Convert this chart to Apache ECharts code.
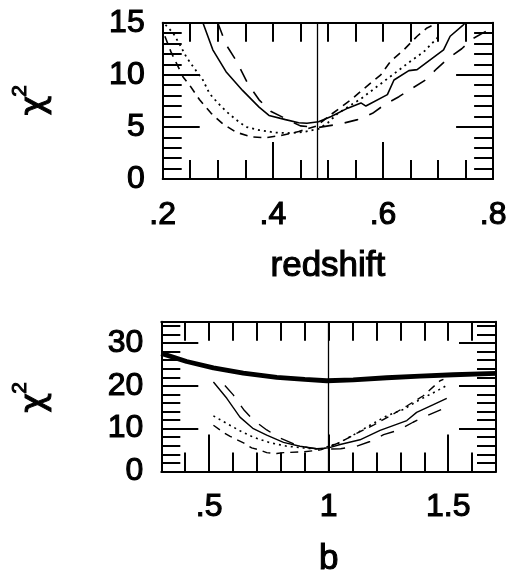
<!DOCTYPE html>
<html><head><meta charset="utf-8">
<script src="https://cdn.jsdelivr.net/npm/echarts@6/dist/echarts.min.js"></script>
<style>html,body{margin:0;padding:0;background:#fff}#c{width:510px;height:578px}</style>
</head><body><div id="c"></div>
<script>
// ---------- top panel: chi^2 vs redshift ----------
const zSolid = [[0.273,15.0],[0.291,12.4],[0.315,10.3],[0.345,8.5],[0.375,6.9],[0.393,6.1],[0.423,5.7],[0.447,5.4],[0.462,5.35],[0.483,5.5],[0.506,6.0],[0.536,6.8],[0.560,7.3],[0.569,7.0],[0.608,8.1],[0.620,9.5],[0.647,10.4],[0.662,10.5],[0.710,12.4],[0.722,13.7],[0.746,14.8],[0.750,15.0]];
const zLongDash = [[0.300,15.0],[0.315,12.9],[0.333,11.4],[0.354,9.2],[0.375,7.6],[0.396,6.5],[0.423,5.8],[0.450,5.1],[0.483,4.95],[0.524,5.3],[0.554,5.7],[0.581,6.3],[0.602,7.1],[0.629,7.9],[0.653,8.7],[0.677,9.5],[0.698,10.6],[0.719,11.6],[0.743,12.5],[0.764,13.5],[0.791,14.3]];
const zDash = [[0.204,13.7],[0.215,12.2],[0.237,9.8],[0.249,9.0],[0.267,7.6],[0.288,6.3],[0.309,5.3],[0.333,4.5],[0.360,4.05],[0.387,3.95],[0.417,4.2],[0.447,4.55],[0.480,5.1],[0.506,6.2],[0.542,7.6],[0.566,8.7],[0.596,10.0],[0.614,11.3],[0.638,12.4],[0.662,13.7],[0.680,14.5],[0.700,15.0]];
const zDot = [[0.205,14.8],[0.219,14.0],[0.231,12.9],[0.243,11.7],[0.255,10.8],[0.273,9.5],[0.285,8.2],[0.300,7.3],[0.315,6.5],[0.333,5.7],[0.351,5.0],[0.375,4.7],[0.405,4.45],[0.435,4.4],[0.459,4.55],[0.483,4.8],[0.500,5.4],[0.518,6.3],[0.560,7.7],[0.590,8.9],[0.620,10.1],[0.650,11.3],[0.674,12.2],[0.698,13.5],[0.702,13.8]];
const zBest = 0.48;
const zLabels = [0.2,0.4,0.6,0.8];
const zChiLabels = [0,5,10,15];

// ---------- bottom panel: chi^2 vs b ----------
const bThick = [[0.30,27.6],[0.406,25.7],[0.518,24.2],[0.643,23.0],[0.783,22.0],[0.900,21.5],[0.992,21.2],[1.103,21.4],[1.243,21.9],[1.382,22.3],[1.522,22.6],[1.700,22.9]];
const bSolid = [[0.518,20.9],[0.574,17.1],[0.629,12.7],[0.685,10.0],[0.741,8.5],[0.811,6.8],[0.880,5.9],[0.950,5.3],[1.000,5.5],[1.048,6.3],[1.131,7.4],[1.215,9.6],[1.327,11.9],[1.368,13.8],[1.438,15.6],[1.494,17.1]];
const bLongDash = [[0.566,20.1],[0.601,17.9],[0.644,14.5],[0.685,12.0],[0.741,9.7],[0.797,7.8],[0.861,6.3],[0.917,5.5],[0.970,5.2],[1.050,5.3],[1.117,5.9],[1.173,7.0],[1.230,8.6],[1.294,9.7],[1.353,11.5],[1.409,13.0],[1.472,14.5],[1.494,15.3]];
const bDash = [[0.518,10.8],[0.560,9.1],[0.588,8.2],[0.616,7.4],[0.644,6.7],[0.678,5.5],[0.713,5.0],[0.741,4.4],[0.783,4.2],[0.811,4.4],[0.894,4.6],[0.950,4.9],[0.970,5.1],[1.048,6.8],[1.117,8.9],[1.187,10.8],[1.257,13.0],[1.327,15.3],[1.396,17.7],[1.466,21.2],[1.480,21.5]];
const bDot = [[0.518,13.0],[0.574,11.2],[0.629,9.5],[0.685,8.0],[0.755,6.7],[0.825,5.9],[0.894,5.5],[0.964,5.2],[1.040,6.6],[1.103,8.5],[1.173,10.8],[1.243,13.0],[1.313,14.5],[1.382,16.8],[1.452,18.8],[1.494,20.1]];
const bBest = 1.0;
const bLabels = [0.5,1,1.5];
const bChiLabels = [0,10,20,30];

// ---------- styling helpers ----------
const FONT = '"Liberation Sans", Arial, Helvetica, sans-serif';
const GREEK = '"DejaVu Sans", "Liberation Sans", sans-serif';
const BLACK = '#000';
const fmt = v => String(+(+v).toFixed(3)).replace(/^0\./, '.');
const tickLS = {color: BLACK, width: 2};
const heavy = {textBorderColor: BLACK, textBorderWidth: 1.1};

function xAxes(grid, min, max, labels, minorStep, name) {
  const base = {gridIndex: grid, type: 'value', min, max, splitLine: {show: false}, minorTick: {show: false}};
  return [
    Object.assign({}, base, {
      position: 'bottom', name, nameLocation: 'middle', nameGap: 70,
      nameTextStyle: Object.assign({fontFamily: FONT, fontSize: 35, color: BLACK, verticalAlign: 'top'}, heavy),
      axisLine: {show: true, onZero: false, lineStyle: tickLS},
      axisTick: {show: true, inside: true, length: 37, customValues: labels, lineStyle: tickLS},
      axisLabel: Object.assign({show: true, customValues: labels, formatter: fmt, margin: 20, fontSize: 32, color: BLACK, fontFamily: FONT}, heavy)
    }),
    Object.assign({}, base, {
      position: 'bottom', interval: minorStep,
      axisLine: {show: false, onZero: false},
      axisTick: {show: true, inside: true, length: 19, lineStyle: tickLS},
      axisLabel: {show: false}
    }),
    Object.assign({}, base, {
      position: 'top', interval: minorStep,
      axisLine: {show: true, onZero: false, lineStyle: tickLS},
      axisTick: {show: true, inside: true, length: 19, lineStyle: tickLS},
      axisLabel: {show: false}
    })
  ];
}
function yAxes(grid, min, max, labels, minorStep) {
  const base = {gridIndex: grid, type: 'value', min, max, splitLine: {show: false}, minorTick: {show: false}};
  const out = [];
  ['left', 'right'].forEach(pos => {
    out.push(Object.assign({}, base, {
      position: pos,
      axisLine: {show: true, onZero: false, lineStyle: tickLS},
      axisTick: {show: true, inside: true, length: 37, customValues: labels, lineStyle: tickLS},
      axisLabel: pos === 'left'
        ? Object.assign({show: true, customValues: labels, margin: 18, fontSize: 32, color: BLACK, fontFamily: FONT}, heavy)
        : {show: false}
    }));
    out.push(Object.assign({}, base, {
      position: pos, interval: minorStep,
      axisLine: {show: false, onZero: false},
      axisTick: {show: true, inside: true, length: 19, lineStyle: tickLS},
      axisLabel: {show: false}
    }));
  });
  return out;
}
function line(data, xi, yi, type, width, extra) {
  return Object.assign({
    type: 'line', xAxisIndex: xi, yAxisIndex: yi, data, symbol: 'none', showSymbol: false,
    smooth: false, silent: true, animation: false,
    lineStyle: {color: BLACK, width, type, cap: 'butt'}
  }, extra || {});
}
function vline(x) {
  return {markLine: {symbol: ['none', 'none'], silent: true, animation: false, label: {show: false},
    lineStyle: {color: BLACK, width: 1.3, type: 'solid'}, emphasis: {disabled: true}, data: [{xAxis: x}]}};
}
function chiText(x, y, txt, size, family) {
  return {type: 'text', x, y, rotation: Math.PI / 2, silent: true,
    style: {text: txt, font: size + 'px ' + family, fill: BLACK, stroke: BLACK, lineWidth: 1,
      textAlign: 'center', textVerticalAlign: 'middle'}};
}
const LONG = [14, 12], MED = [8, 6], DOT = [2, 4];

const chart = echarts.init(document.getElementById('c'), null, {renderer: 'canvas'});
chart.setOption({
  backgroundColor: '#fff',
  animation: false,
  grid: [
    {left: 162.7, top: 22.7, width: 334, height: 156.3},
    {left: 161.3, top: 321.7, width: 334.7, height: 156}
  ],
  xAxis: [].concat(
    xAxes(0, 0.2, 0.8, zLabels, 0.05, 'redshift'),
    xAxes(1, 0.3, 1.7, bLabels, 0.1, 'b')
  ),
  yAxis: [].concat(
    yAxes(0, 0, 15, zChiLabels, 1),
    yAxes(1, 0, 35, bChiLabels, 2)
  ),
  graphic: [
    chiText(35, 105.8, 'χ', 34, GREEK),
    chiText(20.5, 90.8, '2', 21, FONT),
    chiText(35, 403, 'χ', 34, GREEK),
    chiText(20.5, 388, '2', 21, FONT)
  ],
  series: [
    line(zSolid, 0, 0, 'solid', 1.6, vline(zBest)),
    line(zLongDash, 0, 0, LONG, 1.6),
    line(zDash, 0, 0, MED, 1.6),
    line(zDot, 0, 0, DOT, 1.8),
    line(bThick, 3, 4, 'solid', 4.8, vline(bBest)),
    line(bSolid, 3, 4, 'solid', 1.4),
    line(bLongDash, 3, 4, LONG, 1.4),
    line(bDash, 3, 4, MED, 1.4),
    line(bDot, 3, 4, DOT, 1.6)
  ]
});
</script>
</body></html>
